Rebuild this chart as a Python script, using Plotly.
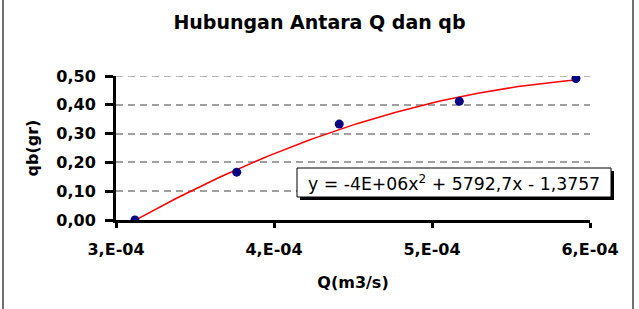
import numpy as np
import plotly.graph_objects as go

# Data
Q = [3.12e-4, 3.764e-4, 4.413e-4, 5.173e-4, 5.911e-4]
qb = [0.0, 0.166, 0.333, 0.412, 0.491]
x_tickvals = [3e-4, 4e-4, 5e-4, 6e-4]
x_ticktext = ["3,E-04", "4,E-04", "5,E-04", "6,E-04"]
y_tickvals = [0.0, 0.1, 0.2, 0.3, 0.4, 0.5]
y_ticktext = ["0,00", "0,10", "0,20", "0,30", "0,40", "0,50"]
title = "Hubungan Antara Q dan qb"
eq_text = "y = -4E+06x<sup>2</sup> + 5792,7x - 1,3757"

# Polynomial trendline (order 2) as Excel does
coef = np.polyfit(Q, qb, 2)
xs = np.linspace(min(Q), max(Q), 100)
ys = np.polyval(coef, xs)

FONT = "DejaVu Sans"
W, H = 639, 309
L, R, T, B = 116, 49, 76, 89
pw, ph = W - L - R, H - T - B

def px(x):
    return (x - L) / pw

def py(y):
    return (H - B - y) / ph

fig = go.Figure()
fig.add_trace(go.Scatter(x=xs, y=ys, mode="lines",
                         line=dict(color="#ff0000", width=1.5),
                         hoverinfo="skip", showlegend=False))
fig.add_trace(go.Scatter(x=Q, y=qb, mode="markers",
                         marker=dict(color="#000080", size=9),
                         showlegend=False))

shapes = [
    # outer frame
    dict(type="rect", xref="paper", yref="paper",
         x0=px(3), x1=px(633), y0=py(320), y1=py(-10),
         line=dict(color="#707070", width=2), fillcolor="rgba(0,0,0,0)",
         layer="below"),
    # top gridline (at axis maximum)
    dict(type="line", xref="paper", yref="y",
         x0=0, x1=1, y0=y_tickvals[-1], y1=y_tickvals[-1],
         line=dict(color="#a0a0a0", width=1.5, dash="7px,5px"), layer="below"),
    # equation box shadow
    dict(type="rect", xref="paper", yref="paper",
         x0=px(300), x1=px(614), y0=py(200), y1=py(171),
         line=dict(width=0), fillcolor="#000000", layer="above"),
    # equation box
    dict(type="rect", xref="paper", yref="paper",
         x0=px(297), x1=px(611), y0=py(197), y1=py(168),
         line=dict(color="#000000", width=1), fillcolor="#ffffff", layer="above"),
]

fig.update_layout(
    width=W, height=H,
    margin=dict(l=L, r=R, t=T, b=B),
    paper_bgcolor="white", plot_bgcolor="white",
    title=dict(text="<b>" + title + "</b>", x=0.5, xref="container",
               y=1 - 22 / H, yanchor="middle",
               font=dict(family=FONT, size=19, color="#000000")),
    shapes=shapes,
    annotations=[dict(text=eq_text, xref="paper", yref="paper",
                      x=px(454), y=py(182.5), showarrow=False,
                      xanchor="center", yanchor="middle",
                      font=dict(family=FONT, size=17.3, color="#000000"))],
    xaxis=dict(range=[3e-4, 6e-4], tickvals=x_tickvals, ticktext=x_ticktext,
               showgrid=False, zeroline=False, showline=True,
               linecolor="#000000", linewidth=3,
               ticks="outside", ticklen=5, tickwidth=3, tickcolor="#000000",
               ticklabelstandoff=8,
               tickfont=dict(family=FONT, size=16, color="#000000", weight="bold"),
               title=dict(text="<b>Q(m3/s)</b>", standoff=19,
                          font=dict(family=FONT, size=16, color="#000000"))),
    yaxis=dict(range=[0, 0.5], tickvals=y_tickvals, ticktext=y_ticktext,
               showgrid=True, gridcolor="#a0a0a0", gridwidth=1.5,
               griddash="7px,5px", zeroline=False, showline=True,
               linecolor="#000000", linewidth=3,
               ticks="outside", ticklen=8, tickwidth=3, tickcolor="#000000",
               ticklabelstandoff=6,
               tickfont=dict(family=FONT, size=16, color="#000000", weight="bold"),
               title=dict(text="<b>qb(gr)</b>", standoff=14,
                          font=dict(family=FONT, size=16, color="#000000"))),
)

fig.write_html("out.html")
